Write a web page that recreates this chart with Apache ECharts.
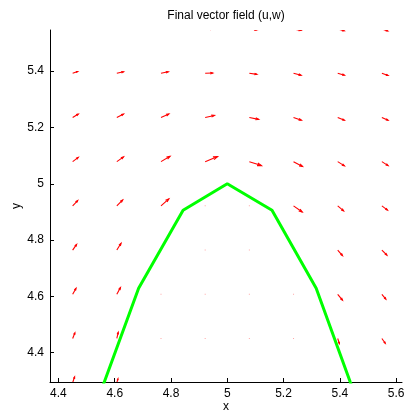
<!DOCTYPE html>
<html>
<head>
<meta charset="utf-8">
<script src="https://cdn.jsdelivr.net/npm/echarts@6/dist/echarts.min.js"></script>
<style>
  html, body { margin: 0; padding: 0; background: #fff; }
  #main { width: 404px; height: 413px; }
</style>
</head>
<body>
<div id="main"></div>
<script>
// grid points of the quiver plot
var xs = [4.4505, 4.6075, 4.7645, 4.9215, 5.0785, 5.2355, 5.3925, 5.5495];
var ys = [5.5495, 5.3925, 5.2355, 5.0785, 4.9215, 4.7645, 4.6075, 4.4505, 4.2935];

// vector components (u, w), one row per y, top row first
var U = [
    [0.016, 0.020, 0.023, 0.025, 0.027, 0.027, 0.023, 0.021],
    [0.018, 0.024, 0.026, 0.027, 0.027, 0.027, 0.024, 0.022],
    [0.020, 0.024, 0.028, 0.033, 0.033, 0.028, 0.024, 0.022],
    [0.020, 0.024, 0.032, 0.044, 0.043, 0.032, 0.024, 0.022],
    [0.018, 0.021, 0.028, 0, 0, 0.031, 0.021, 0.020],
    [0.014, 0.015, 0, 0, 0, 0, 0.017, 0.018],
    [0.012, 0.013, 0, 0, 0, 0, 0.017, 0.014],
    [0.008, 0.005, 0, 0, 0, 0, 0.006, 0.012],
    [0.007, 0.004, 0, 0, 0, 0, 0.005, 0.010]
];
var W = [
    [0.004, 0.003, 0.002, 0, -0.003, -0.005, -0.006, -0.007],
    [0.006, 0.005, 0.005, 0.001, -0.004, -0.007, -0.007, -0.008],
    [0.012, 0.012, 0.012, 0.007, -0.007, -0.010, -0.010, -0.010],
    [0.015, 0.017, 0.019, 0.018, -0.014, -0.017, -0.015, -0.014],
    [0.019, 0.021, 0.025, 0, 0, -0.022, -0.018, -0.015],
    [0.020, 0.024, 0, 0, 0, 0, -0.020, -0.018],
    [0.021, 0.024, 0, 0, 0, 0, -0.021, -0.017],
    [0.020, 0.022, 0, 0, 0, 0, -0.018, -0.017],
    [0.021, 0.014, 0, 0, 0, 0, -0.018, -0.016]
];

// green outline
var lineX = [4.528, 4.563, 4.685, 4.843, 5.0, 5.159, 5.316, 5.437, 5.472];
var lineY = [4.2, 4.296, 4.629, 4.906, 5.0, 4.906, 4.629, 4.296, 4.2];

var xTicks = [4.4, 4.6, 4.8, 5, 5.2, 5.4, 5.6];
var yTicks = [4.4, 4.6, 4.8, 5, 5.2, 5.4];

var quiverData = [];
for (var r = 0; r < ys.length; r++) {
    for (var c = 0; c < xs.length; c++) {
        quiverData.push([xs[c], ys[r], U[r][c], W[r][c]]);
    }
}
var lineData = lineX.map(function (x, i) { return [x, lineY[i]]; });

var chart = echarts.init(document.getElementById('main'));

var axisFont = {fontFamily: 'Liberation Sans', fontSize: 12, color: '#000'};

function renderArrow(params, api) {
    var x = api.value(0), y = api.value(1), u = api.value(2), w = api.value(3);
    var p0 = api.coord([x, y]);
    if (u === 0 && w === 0) {
        return {
            type: 'rect',
            shape: {x: p0[0] - 0.5, y: p0[1] - 0.5, width: 1, height: 1},
            style: {fill: 'rgba(255,0,0,0.35)'}
        };
    }
    var p1 = api.coord([x + u, y + w]);
    var du = p1[0] - p0[0], dv = p1[1] - p0[1];
    // matlab style head: alpha = beta = 0.33
    var a = 0.33, b = 0.33;
    var h1 = [p1[0] - a * (du + b * dv), p1[1] - a * (dv - b * du)];
    var h2 = [p1[0] - a * (du - b * dv), p1[1] - a * (dv + b * du)];
    return {
        type: 'group',
        children: [
            {type: 'polyline', shape: {points: [p0, p1]}, style: {stroke: '#ff0000', lineWidth: 1.1, fill: null}},
            {type: 'polyline', shape: {points: [h1, p1, h2]}, style: {stroke: '#ff0000', lineWidth: 1.1, fill: null}}
        ]
    };
}

var option = {
    backgroundColor: '#fff',
    animation: false,
    graphic: [{
        type: 'text',
        x: 226,
        y: 10,
        style: {text: 'Final vector field (u,w)', textAlign: 'center', fontFamily: 'Liberation Sans', fontSize: 12, fill: '#000'}
    }],
    grid: {left: 50, right: 2, top: 30, bottom: 31, outerBoundsMode: 'none', containLabel: false},
    xAxis: {
        type: 'value',
        min: 4.37,
        max: 5.621,
        name: 'x',
        nameLocation: 'middle',
        nameGap: 19,
        nameMoveOverlap: false,
        nameTextStyle: axisFont,
        axisLine: {show: true, onZero: false, lineStyle: {color: '#000', width: 1}},
        axisTick: {show: true, inside: true, length: 4, customValues: xTicks, lineStyle: {color: '#000'}},
        axisLabel: Object.assign({margin: 6, customValues: xTicks, hideOverlap: false}, axisFont),
        splitLine: {show: false}
    },
    yAxis: {
        type: 'value',
        min: 4.296,
        max: 5.546,
        name: 'y',
        nameLocation: 'middle',
        nameGap: 27,
        nameMoveOverlap: false,
        nameTextStyle: axisFont,
        axisLine: {show: true, onZero: false, lineStyle: {color: '#000', width: 1}},
        axisTick: {show: true, inside: true, length: 4, customValues: yTicks, lineStyle: {color: '#000'}},
        axisLabel: Object.assign({margin: 6, customValues: yTicks}, axisFont),
        splitLine: {show: false}
    },
    series: [
        {
            type: 'custom',
            clip: true,
            renderItem: renderArrow,
            data: quiverData,
            z: 2
        },
        {
            type: 'line',
            data: lineData,
            symbol: 'none',
            clip: true,
            lineStyle: {color: '#00ff00', width: 3},
            z: 3
        }
    ]
};

chart.setOption(option);
</script>
</body>
</html>
